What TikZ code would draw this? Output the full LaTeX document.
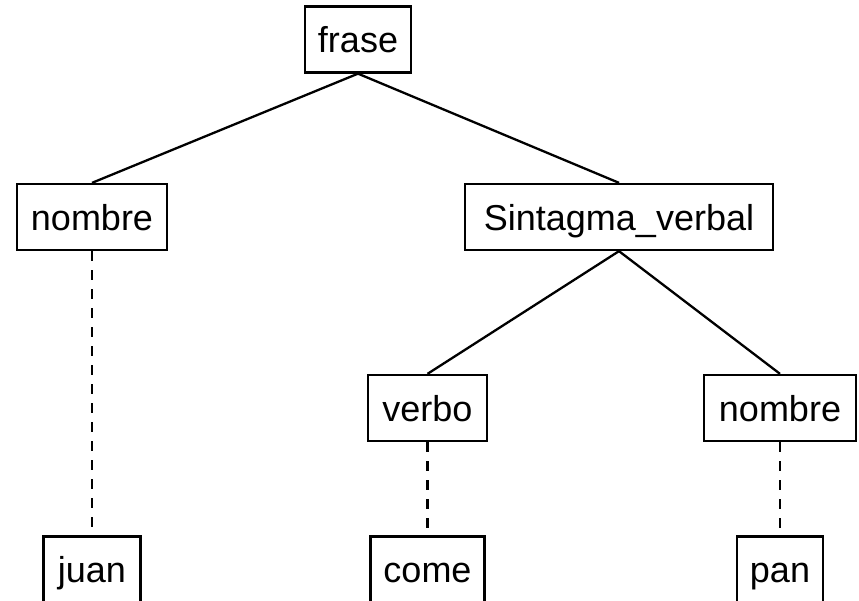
\documentclass[tikz,border=0pt]{standalone}
\usepackage{fontspec}
\setmainfont{Liberation Sans}
\begin{document}
\begin{tikzpicture}[x=1pt,y=-1pt,
  treebox/.style={draw, line width=2.3pt, fill=white, inner sep=0pt,
    minimum height=66pt, text height=26pt, text depth=0pt,
    font=\fontsize{36}{40}\selectfont},
  branch/.style={line width=2.3pt},
  leafline/.style={line width=2.3pt, dash pattern=on 10pt off 9pt}]
  \useasboundingbox (0,0) rectangle (859,600);
  % phrase structure
  \node[treebox, minimum width=106pt] (frase) at (358,39.5) {frase};
  \node[treebox, minimum width=150pt] (nom1) at (92,217) {nombre};
  \node[treebox, minimum width=308pt] (sv) at (619,217) {Sintagma\_verbal};
  \node[treebox, minimum width=119pt] (verbo) at (427.5,408) {verbo};
  \node[treebox, minimum width=152pt] (nom2) at (780,408) {nombre};
  % words (their boxes run past the lower edge of the page)
  \node[treebox, minimum width=97pt] (juan) at (92,569.5) {juan};
  \node[treebox, minimum width=114pt] (come) at (427.5,569.5) {come};
  \node[treebox, minimum width=86pt] (pan) at (780,569.5) {pan};
  % branches
  \draw[branch] (frase.south) -- (nom1.north);
  \draw[branch] (frase.south) -- (sv.north);
  \draw[branch] (sv.south) -- (verbo.north);
  \draw[branch] (sv.south) -- (nom2.north);
  % lexical links
  \draw[leafline] (nom1.south) -- (juan.north);
  \draw[leafline] (verbo.south) -- (come.north);
  \draw[leafline] (nom2.south) -- (pan.north);
\end{tikzpicture}
\end{document}
